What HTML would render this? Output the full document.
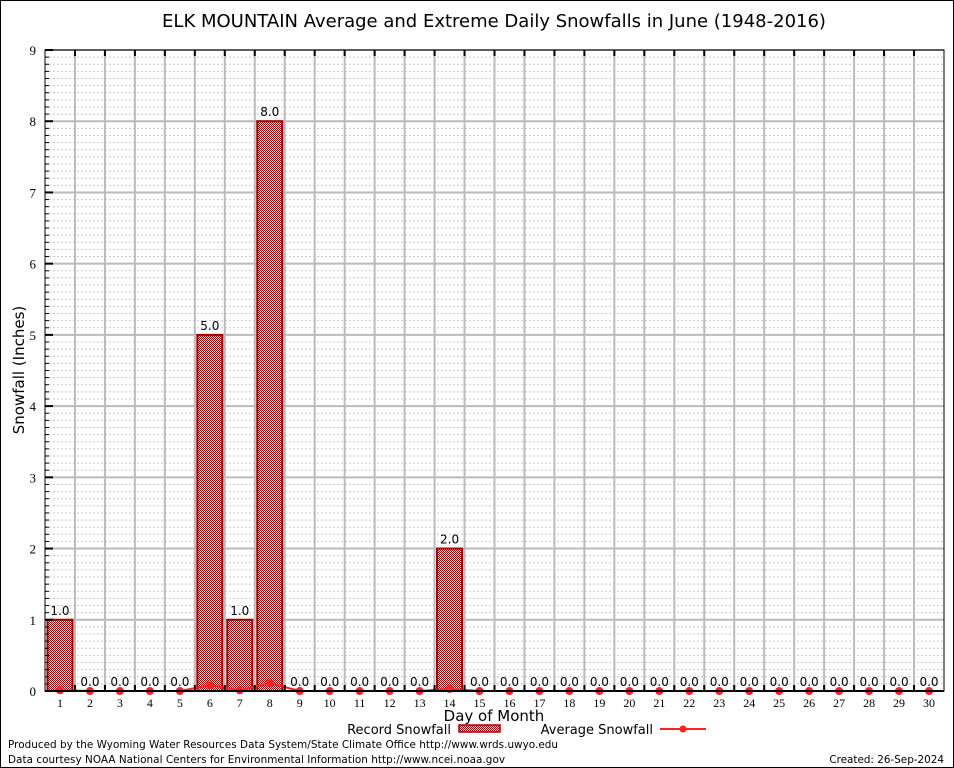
<!DOCTYPE html>
<html><head><meta charset="utf-8"><style>
html,body{margin:0;padding:0;background:#fff}
svg{display:block;font-family:"DejaVu Sans","Liberation Sans",sans-serif}
</style></head><body>
<svg id="chart" width="954" height="768" viewBox="0 0 954 768">
<defs>
<pattern id="chk" width="2" height="2" patternUnits="userSpaceOnUse">
<rect width="2" height="2" fill="#f4e0e0"/><rect width="1" height="1" fill="#a00000"/><rect x="1" y="1" width="1" height="1" fill="#a00000"/>
</pattern>
</defs>
<rect x="0.5" y="0.5" width="953" height="767" fill="#fff" stroke="#000"/>
<text x="494" y="27" font-size="18" text-anchor="middle">ELK MOUNTAIN Average and Extreme Daily Snowfalls in June (1948-2016)</text>
<g id="grid"></g>
<g id="bars"></g>
<g id="avg"></g>
<g id="axes"></g>
<text x="24" y="370" font-size="15" text-anchor="middle" transform="rotate(-90 24 370)">Snowfall (Inches)</text>
<text x="494" y="721" font-size="15" text-anchor="middle">Day of Month</text>
<g>
<text x="451" y="734" font-size="13" text-anchor="end">Record Snowfall</text>
<rect x="459" y="725" width="41" height="7" fill="url(#chk)" stroke="#a00000" stroke-width="1.5"/>
</g>
<g>
<text x="653" y="734" font-size="13" text-anchor="end">Average Snowfall</text>
<line x1="660" y1="729" x2="706" y2="729" stroke="#ff2020" stroke-width="2"/>
<circle cx="683" cy="729" r="3.5" fill="#ff2020"/>
</g>
<text x="8" y="748" font-size="10.4" textLength="550">Produced by the Wyoming Water Resources Data System/State Climate Office http://www.wrds.uwyo.edu</text>
<text x="8" y="763" font-size="10.4" textLength="497">Data courtesy NOAA National Centers for Environmental Information http://www.ncei.noaa.gov</text>
<text x="944" y="763" font-size="10.4" text-anchor="end">Created:  26-Sep-2024</text>
</svg>
<script>
const days = [1,2,3,4,5,6,7,8,9,10,11,12,13,14,15,16,17,18,19,20,21,22,23,24,25,26,27,28,29,30];
const recordSnow = [1,0,0,0,0,5,1,8,0,0,0,0,0,2,0,0,0,0,0,0,0,0,0,0,0,0,0,0,0,0];
const avgSnow = [0.01,0,0,0,0,0.08,0.01,0.11,0,0,0,0,0,0.03,0,0,0,0,0,0,0,0,0,0,0,0,0,0,0,0];
const yTicks = [0,1,2,3,4,5,6,7,8,9];
const L=45,R=944,T=50,B=691,YMAX=9;
const bw=(R-L)/days.length;
const xC=d=>L+(d-0.5)*bw;
const y=v=>B-v/YMAX*(B-T);
const NS='http://www.w3.org/2000/svg';
function mk(tag,attrs,parent,txt){const e=document.createElementNS(NS,tag);for(const k in attrs)e.setAttribute(k,attrs[k]);if(txt!==undefined)e.textContent=txt;parent.appendChild(e);return e;}
const grid=document.getElementById('grid'),bars=document.getElementById('bars'),avg=document.getElementById('avg'),axes=document.getElementById('axes');
for(let v=0.1;v<YMAX;v+=0.1){const r=Math.round(v*10)/10;if(Math.abs(r-Math.round(r))<1e-6)continue;
const l=mk('line',{x1:L,x2:R,y1:y(r),y2:y(r),stroke:'#c8c8c8','stroke-dasharray':'2,2'},grid);


const t=mk('line',{x1:L,x2:L+4,y1:y(r),y2:y(r),stroke:'#000'},axes);

}
yTicks.forEach(v=>{const l=mk('line',{x1:L,x2:R,y1:y(v),y2:y(v),stroke:'#bbb','stroke-width':2},grid);


const t=mk('text',{x:L-9,y:y(v)+5,'font-size':13,'text-anchor':'end','font-family':'Liberation Serif,serif'},axes,String(v));


const k=mk('line',{x1:L,x2:L+8,y1:y(v),y2:y(v),stroke:'#000','stroke-width':2},axes);

});
for(let i=1;i<days.length;i++){const x=L+i*bw;
const l=mk('line',{x1:x,x2:x,y1:T,y2:B,stroke:'#bbb','stroke-width':2},grid);


const t=mk('line',{x1:x,x2:x,y1:T,y2:T+6,stroke:'#000','stroke-width':2},axes);


const b=mk('line',{x1:x,x2:x,y1:B,y2:B-6,stroke:'#000','stroke-width':2},axes);

}
days.forEach((d,i)=>{const v=recordSnow[i];
if(v>0){const r=mk('rect',{x:xC(d)-12.5,y:y(v),width:25,height:B-y(v),fill:'url(#chk)',stroke:'#a00000','stroke-width':2},bars);

}
const lb=mk('text',{x:xC(d),y:y(v)-5,'font-size':12,'text-anchor':'middle'},bars,v.toFixed(1));


const xl=mk('text',{x:xC(d),y:B+16,'font-size':12,'text-anchor':'middle','font-family':'Liberation Serif,serif'},axes,String(d));

});
const pl=mk('polyline',{points:days.map((d,i)=>xC(d)+','+y(avgSnow[i])).join(' '),fill:'none',stroke:'#ff2020','stroke-width':2},avg);


days.forEach((d,i)=>{const c=mk('circle',{cx:xC(d),cy:y(avgSnow[i]),r:4,fill:'#ff2020'},avg);

});
const fr=mk('rect',{x:L,y:T,width:R-L,height:B-T,fill:'none',stroke:'#000','stroke-width':1},axes);


const xa=mk('line',{x1:L,x2:R,y1:B,y2:B,stroke:'#000','stroke-width':2},axes);


</script>
</body></html>
